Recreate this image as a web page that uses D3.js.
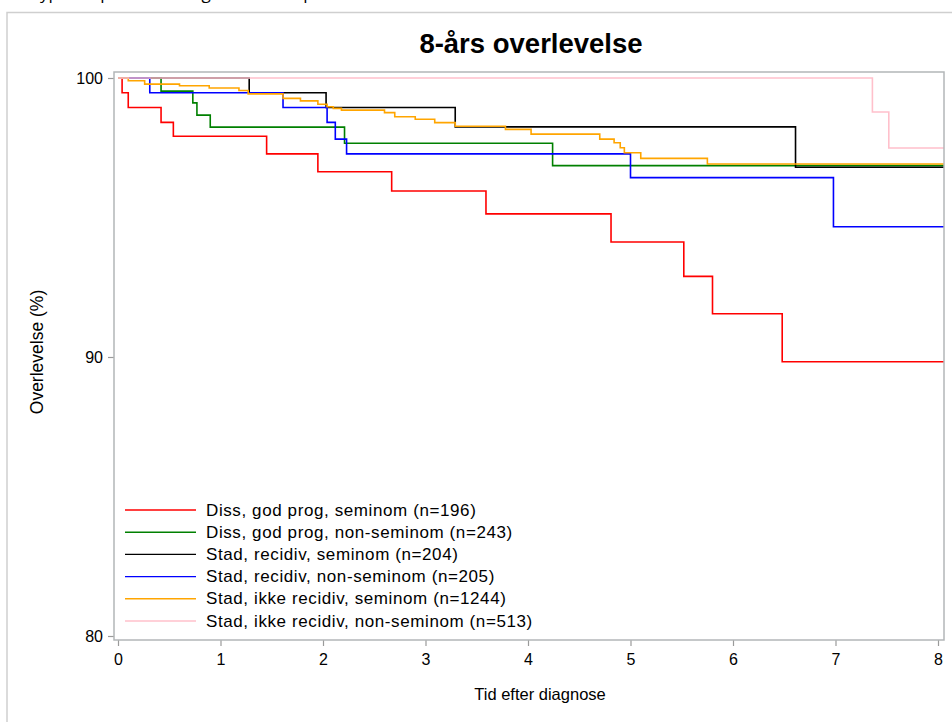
<!DOCTYPE html>
<html>
<head>
<meta charset="utf-8">
<script src="https://cdn.jsdelivr.net/npm/d3@7/dist/d3.min.js"></script>
<style>
  html, body { margin: 0; padding: 0; background: #fff; }
  svg { display: block; }
  text { font-family: "Liberation Sans", Arial, sans-serif; fill: #000; }
</style>
</head>
<body>
<svg id="chart" width="952" height="722"></svg>
<script>
// Kaplan-Meier estimates: [years since diagnosis, survival %], step-after
const redSteps = [[0,100],[0.04,99.47],[0.10,98.94],[0.42,98.41],[0.54,97.91],[1.45,97.28],[1.95,96.64],[2.67,95.95],[3.59,95.13],[4.81,94.12],[5.52,92.89],[5.80,91.55],[6.48,89.83],[8.06,89.83]];
const greenSteps = [[0,100],[0.42,99.53],[0.73,99.11],[0.77,98.67],[0.90,98.24],[2.21,97.66],[4.24,96.86],[8.06,96.86]];
const blackSteps = [[0,100],[1.28,99.47],[2.03,98.94],[3.29,98.25],[6.61,96.80],[8.06,96.80]];
const blueSteps = [[0,100],[0.31,99.47],[1.61,98.94],[2.04,98.41],[2.12,97.81],[2.23,97.28],[5.00,96.43],[6.98,94.67],[8.06,94.67]];
const orangeSteps = [[0,100],[0.10,99.90],[0.26,99.78],[0.60,99.72],[0.89,99.64],[1.18,99.55],[1.27,99.43],[1.61,99.27],[1.78,99.18],[1.95,99.06],[2.04,98.97],[2.10,98.91],[2.18,98.85],[2.60,98.76],[2.70,98.61],[2.90,98.52],[3.09,98.40],[3.29,98.27],[3.78,98.16],[4.03,97.99],[4.70,97.81],[4.84,97.68],[4.90,97.50],[4.94,97.32],[5.10,97.12],[5.75,96.92],[8.06,96.92]];
const pinkSteps = [[0,100],[7.36,98.78],[7.52,97.49],[8.06,97.49]];

const seriesLabels = [
  "Diss, god prog, seminom (n=196)",
  "Diss, god prog, non-seminom (n=243)",
  "Stad, recidiv, seminom (n=204)",
  "Stad, recidiv, non-seminom (n=205)",
  "Stad, ikke recidiv, seminom (n=1244)",
  "Stad, ikke recidiv, non-seminom (n=513)"
];
const seriesColors = ["#ff0000", "#008000", "#000000", "#0000ff", "#ffa500", "#ffc0cb"];
const seriesData = [redSteps, greenSteps, blackSteps, blueSteps, orangeSteps, pinkSteps];

const xTicks = [0, 1, 2, 3, 4, 5, 6, 7, 8];
const yTicks = [80, 90, 100];

const titleText = "8-års overlevelse";
const xTitle = "Tid efter diagnose";
const yTitle = "Overlevelse (%)";
const captionText = "subtype for patienter diagnosticeret i perioden 2013-2020.";

const svg = d3.select("#chart");

// caption line above the figure box (only its lower edge lies in view)
svg.append("text").attr("x", 5).attr("y", -1)
  .style("font-family", "'Open Sans', sans-serif").style("font-size", "17px")
  .text(captionText);

// figure box edges
svg.append("path").attr("d", "M7,722V12.5H952")
  .attr("fill", "none").attr("stroke", "#cfcfcf").attr("stroke-width", 1.5);

const x = d3.scaleLinear().domain([0, 8]).range([118, 938]);
const y = d3.scaleLinear().domain([80, 100]).range([636, 78]);

const frame = { left: 114, top: 72, right: 944, bottom: 640 };

svg.append("defs").append("clipPath").attr("id", "plotclip")
  .append("rect")
  .attr("x", frame.left).attr("y", frame.top)
  .attr("width", frame.right - frame.left).attr("height", frame.bottom - frame.top);

// title
svg.append("text").attr("x", 531).attr("y", 53)
  .attr("text-anchor", "middle")
  .style("font-size", "27.5px").style("font-weight", "bold")
  .text(titleText);

// axes
const xAxis = d3.axisBottom(x).tickValues(xTicks).tickSize(6).tickPadding(5).tickSizeOuter(0);
const gx = svg.append("g").attr("transform", `translate(0,${frame.bottom})`).call(xAxis);
const yAxis = d3.axisLeft(y).tickValues(yTicks).tickSize(6).tickPadding(5).tickSizeOuter(0);
const gy = svg.append("g").attr("transform", `translate(${frame.left},0)`).call(yAxis);
[gx, gy].forEach(g => {
  g.select(".domain").remove();
  g.selectAll(".tick line").attr("stroke", "#9a9a9a").attr("stroke-width", 1.2);
  g.selectAll(".tick text").style("font-size", "16px").style("font-family", "'Liberation Sans', Arial, sans-serif").attr("fill", "#000");
});
gx.selectAll(".tick text").attr("dy", "0.9em");

// axis titles
svg.append("text").attr("x", 540).attr("y", 700)
  .attr("text-anchor", "middle").style("font-size", "16.5px")
  .text(xTitle);
svg.append("text")
  .attr("transform", "translate(43,352) rotate(-90)")
  .attr("text-anchor", "middle").style("font-size", "17.5px")
  .text(yTitle);

// survival curves
const line = d3.line().x(d => x(d[0])).y(d => y(d[1])).curve(d3.curveStepAfter);
const curves = svg.append("g").attr("clip-path", "url(#plotclip)");
seriesData.forEach((s, i) => {
  curves.append("path").datum(s)
    .attr("d", line)
    .attr("fill", "none")
    .attr("stroke", seriesColors[i])
    .attr("stroke-width", 1.6);
});

// plot frame
svg.append("rect")
  .attr("x", frame.left).attr("y", frame.top)
  .attr("width", frame.right - frame.left).attr("height", frame.bottom - frame.top)
  .attr("fill", "none").attr("stroke", "#b3b6b8").attr("stroke-width", 1.5);

// legend
const legend = svg.append("g");
seriesLabels.forEach((lab, i) => {
  const ly = 510 + i * 22.2;
  legend.append("line")
    .attr("x1", 125).attr("x2", 196).attr("y1", ly).attr("y2", ly)
    .attr("stroke", seriesColors[i]).attr("stroke-width", 1.4);
  legend.append("text")
    .attr("x", 206).attr("y", ly + 5.5)
    .style("font-size", "17px").style("letter-spacing", "0.6px")
    .attr("fill", "#222")
    .text(lab);
});
</script>
</body>
</html>
